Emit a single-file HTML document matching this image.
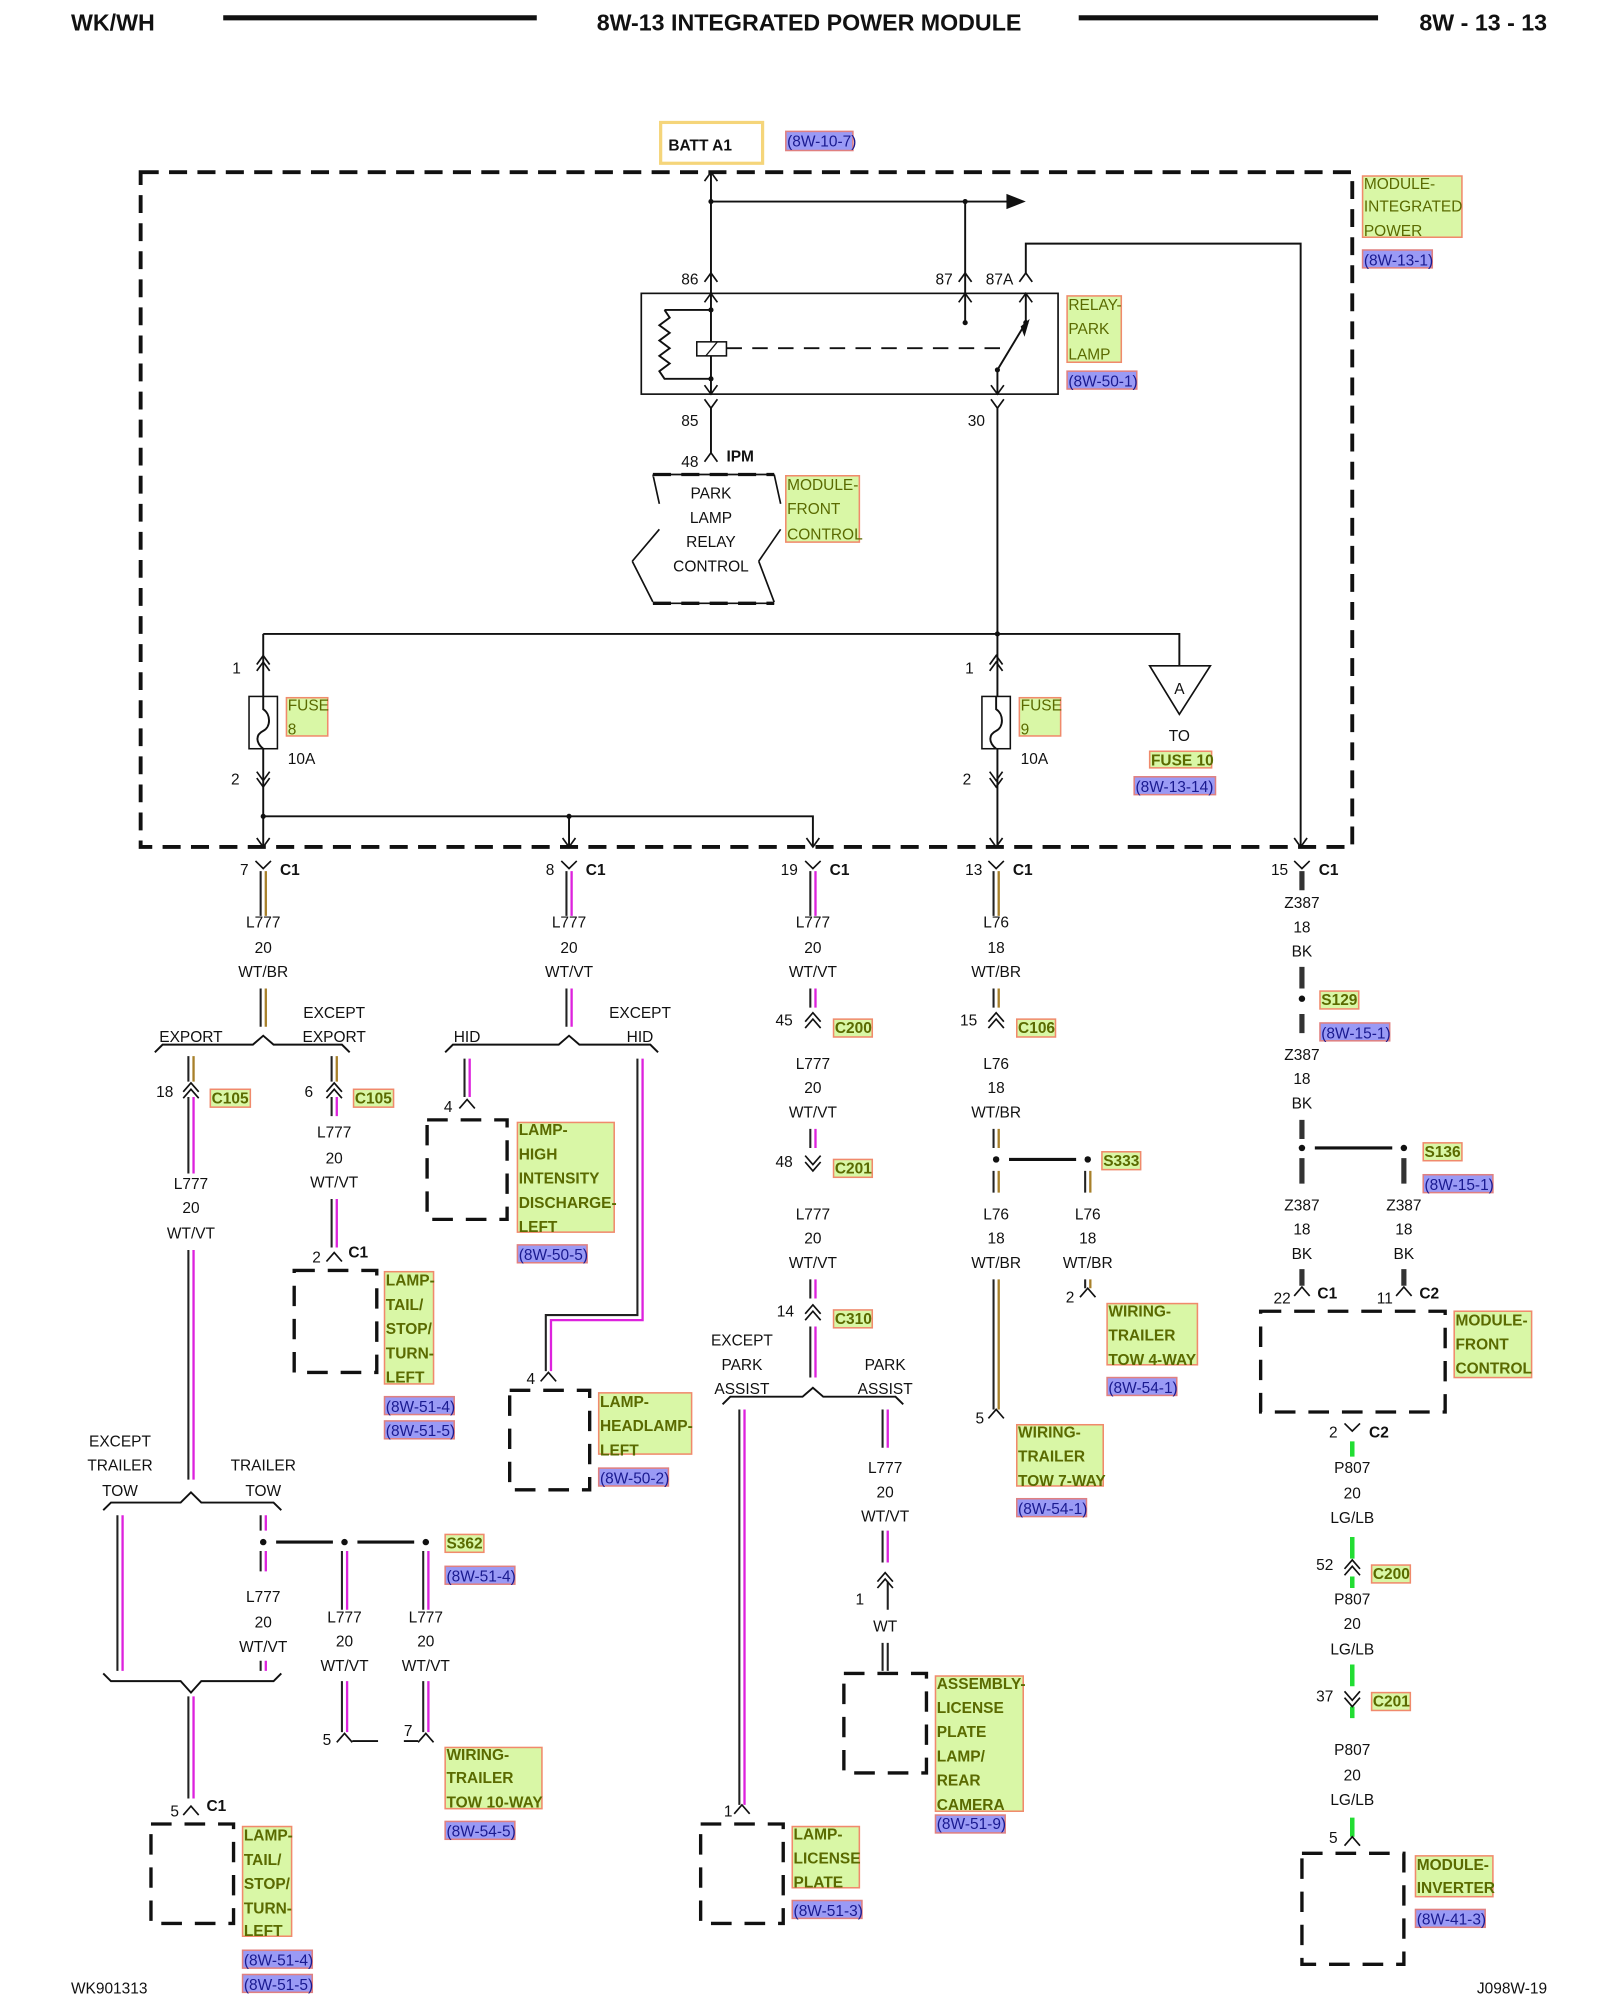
<!DOCTYPE html>
<html><head><meta charset="utf-8"><style>
html,body{margin:0;padding:0;background:#fff}
svg{display:block}
text{font-family:"Liberation Sans",sans-serif;font-size:12px;fill:#111}
.c{text-anchor:middle}
.b{font-weight:bold}
.h{font-size:18px;font-weight:bold}
.g{fill:#d9f7a6;stroke:#f08a6c;stroke-width:1.2}
.gt{fill:#5a6a00}
.gb{fill:#5a6a00;font-weight:bold}
.r{fill:#9a9af5;stroke:#e08080;stroke-width:1.2}
.rt{fill:#1a1a90}
.ln{stroke:#111;stroke-width:1.5;fill:none}
.dash{stroke:#111;stroke-width:3;fill:none;stroke-dasharray:14,8}
.dsm{stroke:#111;stroke-width:2.6;fill:none;stroke-dasharray:16,10}
.car{stroke:#111;stroke-width:1.3;fill:none}
.wb{stroke:#222;stroke-width:1.6;fill:none}
.wv{stroke:#dd22dd;stroke-width:1.8;fill:none}
.wy{stroke:#a8802a;stroke-width:1.8;fill:none}
.bk{stroke:#333;stroke-width:4;fill:none}
.lg{stroke:#22dd33;stroke-width:3.5;fill:none}
</style></head><body>
<svg width="1600" height="2000" viewBox="0 0 1240 1568" preserveAspectRatio="none" xmlns="http://www.w3.org/2000/svg">
<!-- header -->
<text x="55" y="24" class="h">WK/WH</text>
<line x1="173" y1="14" x2="416" y2="14" stroke="#111" stroke-width="4"/>
<text x="627" y="24" class="h c">8W-13 INTEGRATED POWER MODULE</text>
<line x1="836" y1="14" x2="1068" y2="14" stroke="#111" stroke-width="4"/>
<text x="1199" y="24" class="h" text-anchor="end">8W - 13 - 13</text>

<!-- BATT -->
<rect x="512" y="96" width="79" height="32" fill="none" stroke="#f5d57a" stroke-width="2.5"/>
<text x="518" y="118" class="b">BATT A1</text>
<rect x="609" y="103" width="52" height="15" class="r"/><text x="610" y="115" class="rt">(8W-10-7)</text>

<!-- module box -->
<rect x="109" y="135" width="939" height="529" class="dash"/>
<rect x="1056" y="138" width="77" height="48" class="g"/>
<text x="1057" y="148" class="gt">MODULE-</text><text x="1057" y="166" class="gt">INTEGRATED</text><text x="1057" y="185" class="gt">POWER</text>
<rect x="1056" y="196" width="54" height="14" class="r"/><text x="1057" y="208" class="rt">(8W-13-1)</text>

<!-- top wiring -->
<path class="ln" d="M551 135V309 M551 158H782 M748 158V253 M795 214V191H1008V664"/>
<polygon points="780,152 795,158 780,164" fill="#111"/>
<circle cx="551" cy="158" r="2" fill="#111"/><circle cx="748" cy="158" r="2" fill="#111"/>
<path class="car" d="M546 142L551 135L556 142 M546 221L551 214L556 221 M743 221L748 214L753 221 M790 221L795 214L800 221 M1003 657L1008 664L1013 657"/>
<text x="528" y="223">86</text><text x="725" y="223">87</text><text x="764" y="223">87A</text>

<!-- relay -->
<rect x="497" y="230" width="323" height="79" fill="none" stroke="#111" stroke-width="1.3"/>
<path class="car" d="M546 237L551 230L556 237 M546 302L551 309L556 302 M743 237L748 230L753 237 M790 237L795 230L800 237 M768 302L773 309L778 302"/>
<path class="ln" d="M551 243H515 M515 243L519 249L511 255L519 261L511 267L519 273L511 279L519 285L511 291L515 297H551 M795 230V253 M795 253L773 290 M773 290V309"/>
<circle cx="551" cy="243" r="2" fill="#111"/><circle cx="551" cy="297" r="2" fill="#111"/>
<circle cx="748" cy="253" r="2" fill="#111"/><circle cx="795" cy="253" r="2" fill="#111"/><circle cx="773" cy="290" r="2" fill="#111"/>
<polygon points="791,256 798,250 794,264" fill="#111"/>
<rect x="540" y="268" width="23" height="11" fill="#fff" stroke="#111" stroke-width="1.2"/>
<line x1="547" y1="279" x2="556" y2="268" stroke="#111" stroke-width="1"/>
<line x1="563" y1="273" x2="783" y2="273" stroke="#111" stroke-width="1.5" stroke-dasharray="12,8"/>
<rect x="827" y="232" width="42" height="52" class="g"/>
<text x="828" y="243" class="gt">RELAY-</text><text x="828" y="262" class="gt">PARK</text><text x="828" y="282" class="gt">LAMP</text>
<rect x="827" y="291" width="54" height="14" class="r"/><text x="828" y="303" class="rt">(8W-50-1)</text>

<!-- 85 / IPM -->
<path class="ln" d="M551 320V355 M773 320V664"/>
<path class="car" d="M546 313L551 320L556 313 M546 362L551 355L556 362 M768 313L773 320L778 313"/>
<text x="528" y="334">85</text><text x="750" y="334">30</text>
<text x="528" y="366">48</text><text x="563" y="362" class="b">IPM</text>
<path d="M506 372H600 M506 372L511 395 M511 415L490 440 M490 440L506 472 M506 473H600 M600 372L605 395 M605 415L588 440 M588 440L600 472" stroke="#111" stroke-width="1.3" fill="none"/>
<path d="M506 372H600 M506 473H600" stroke="#fff" stroke-width="3" stroke-dasharray="2,22" fill="none"/>
<path d="M506 372H600 M506 473H600" stroke="#111" stroke-width="2.6" stroke-dasharray="14,8" fill="none"/>
<text x="551" y="391" class="c">PARK</text><text x="551" y="410" class="c">LAMP</text><text x="551" y="429" class="c">RELAY</text><text x="551" y="448" class="c">CONTROL</text>
<rect x="609" y="373" width="57" height="52" class="g"/>
<text x="610" y="384" class="gt">MODULE-</text><text x="610" y="403" class="gt">FRONT</text><text x="610" y="423" class="gt">CONTROL</text>

<!-- bus -->
<path class="ln" d="M204 497H914V522 M204 497V664 M204 640H630V664 M441 640V664"/>
<circle cx="773" cy="497" r="2" fill="#111"/><circle cx="441" cy="640" r="2" fill="#111"/><circle cx="204" cy="640" r="2" fill="#111"/>
<polygon points="891,522 938,522 914,560" fill="#fff" stroke="#111" stroke-width="1.3"/>
<text x="914" y="544" class="c">A</text><text x="914" y="581" class="c">TO</text>
<rect x="891" y="589" width="48" height="13" class="g"/><text x="892" y="600" class="gb">FUSE 10</text>
<rect x="879" y="609" width="63" height="14" class="r"/><text x="880" y="621" class="rt">(8W-13-14)</text>
<!-- fuses -->
<g>
<path class="car" d="M199 521L204 514L209 521 M199 526L204 519L209 526 M199 605L204 612L209 605 M199 610L204 617L209 610 M767 521L772 514L777 521 M767 526L772 519L777 526 M767 605L772 612L777 605 M767 610L772 617L777 610"/>
<rect x="193" y="546" width="22" height="41" fill="#fff" stroke="#111" stroke-width="1.2"/>
<rect x="761" y="546" width="22" height="41" fill="#fff" stroke="#111" stroke-width="1.2"/>
<path class="ln" d="M204 546V556C210 560 210 570 204 573 C198 576 198 582 204 587 M772 546V556C778 560 778 570 772 573 C766 576 766 582 772 587"/>
<text x="180" y="528">1</text><text x="179" y="615">2</text><text x="223" y="599">10A</text>
<text x="748" y="528">1</text><text x="746" y="615">2</text><text x="791" y="599">10A</text>
<rect x="222" y="547" width="32" height="30" class="g"/><text x="223" y="557" class="gt">FUSE</text><text x="223" y="576" class="gt">8</text>
<rect x="790" y="547" width="32" height="30" class="g"/><text x="791" y="557" class="gt">FUSE</text><text x="791" y="576" class="gt">9</text>
</g>
<path class="car" d="M199 657L204 664L209 657 M436 657L441 664L446 657 M625 657L630 664L635 657 M767 657L772 664L777 657"/>

<!-- C1 connectors -->
<path class="car" d="M198 675L204 681L210 675 M435 675L441 681L447 675 M624 675L630 681L636 675 M766 675L772 681L778 675 M1003 675L1009 681L1015 675"/>
<text x="186" y="686">7</text><text x="217" y="686" class="b">C1</text>
<text x="423" y="686">8</text><text x="454" y="686" class="b">C1</text>
<text x="605" y="686">19</text><text x="643" y="686" class="b">C1</text>
<text x="748" y="686">13</text><text x="785" y="686" class="b">C1</text>
<text x="985" y="686">15</text><text x="1022" y="686" class="b">C1</text>

<!-- wires: black side -->
<path class="wb" d="M202 683V718 M202 775V805 M439 683V718 M439 775V805 M628 683V718 M628 775V790 M770 683V718 M770 775V790
M146 828V848 M146 860V920 M146 980V1160 M257 828V848 M257 860V875 M257 940V978 M91 1188V1310 M202 1188V1200 M202 1216V1232 M202 1302V1310 M146 1330V1410 M265 1216V1262 M328 1216V1262 M265 1318V1358 M328 1318V1358
M360 830V860 M494 830V1031H423V1075 M628 885V900 M628 1003V1018 M628 1040V1080 M573 1105V1415 M684 1105V1135 M684 1200V1225 M684 1288V1310 M688 1288V1310 M688 1240V1262
M770 885V900 M770 918V935 M770 1003V1105 M841 918V935 M841 1003V1010"/>
<path class="wy" d="M206 683V718 M206 775V805 M150 828V848 M261 828V848 M774 683V718 M774 775V790 M774 885V900 M774 918V935 M774 1003V1105 M845 918V935 M845 1003V1010"/>
<path class="wv" d="M443 683V718 M443 775V805 M632 683V718 M632 775V790 M150 860V920 M150 980V1160 M261 860V875 M261 940V978 M95 1188V1310 M206 1188V1200 M206 1216V1232 M206 1302V1310 M150 1330V1410 M269 1216V1262 M332 1216V1262 M269 1318V1358 M332 1318V1358
M364 830V860 M498 830V1035H427V1075 M632 885V900 M632 1003V1018 M632 1040V1080 M577 1105V1415 M688 1105V1135 M688 1200V1225"/>
<path class="bk" d="M1009 683V698 M1009 758V775 M1009 795V810 M1009 878V893 M1009 908V928 M1088 908V928 M1009 995V1008 M1088 995V1008"/>
<path class="lg" d="M1048 1130V1142 M1048 1205V1222 M1048 1236V1245 M1048 1305V1322 M1048 1338V1347 M1048 1425V1440"/>

<!-- column labels -->
<g class="c">
<text x="204" y="727" class="c">L777</text><text x="204" y="747" class="c">20</text><text x="204" y="766" class="c">WT/BR</text>
<text x="441" y="727" class="c">L777</text><text x="441" y="747" class="c">20</text><text x="441" y="766" class="c">WT/VT</text>
<text x="630" y="727" class="c">L777</text><text x="630" y="747" class="c">20</text><text x="630" y="766" class="c">WT/VT</text>
<text x="772" y="727" class="c">L76</text><text x="772" y="747" class="c">18</text><text x="772" y="766" class="c">WT/BR</text>
<text x="1009" y="712" class="c">Z387</text><text x="1009" y="731" class="c">18</text><text x="1009" y="750" class="c">BK</text>
</g>

<!-- col1 brackets -->
<path class="ln" d="M120 825L126 819H196L204 812L212 819H265L271 825"/>
<text x="148" y="817" class="c">EXPORT</text><text x="259" y="798" class="c">EXCEPT</text><text x="259" y="817" class="c">EXPORT</text>
<path class="car" d="M142 856L148 849L154 856 M142 861L148 854L154 861 M253 856L259 849L265 856 M253 861L259 854L265 861"/>
<text x="121" y="860">18</text><text x="236" y="860">6</text>
<rect x="163" y="854" width="31" height="14" class="g"/><text x="164" y="865" class="gb">C105</text>
<rect x="274" y="854" width="31" height="14" class="g"/><text x="275" y="865" class="gb">C105</text>
<text x="148" y="932" class="c">L777</text><text x="148" y="951" class="c">20</text><text x="148" y="971" class="c">WT/VT</text>
<text x="259" y="892" class="c">L777</text><text x="259" y="912" class="c">20</text><text x="259" y="931" class="c">WT/VT</text>
<path class="car" d="M253 989L259 982L265 989"/>
<text x="242" y="990">2</text><text x="270" y="986" class="b">C1</text>
<rect x="228" y="996" width="64" height="80" class="dsm"/>
<rect x="298" y="997" width="38" height="88" class="g"/>
<text x="299" y="1008" class="gb">LAMP-</text><text x="299" y="1027" class="gb">TAIL/</text><text x="299" y="1046" class="gb">STOP/</text><text x="299" y="1065" class="gb">TURN-</text><text x="299" y="1084" class="gb">LEFT</text>
<rect x="298" y="1095" width="54" height="14" class="r"/><text x="299" y="1107" class="rt">(8W-51-4)</text>
<rect x="298" y="1114" width="54" height="14" class="r"/><text x="299" y="1126" class="rt">(8W-51-5)</text>

<text x="93" y="1134" class="c">EXCEPT</text><text x="93" y="1153" class="c">TRAILER</text><text x="93" y="1173" class="c">TOW</text>
<text x="204" y="1153" class="c">TRAILER</text><text x="204" y="1173" class="c">TOW</text>
<path class="ln" d="M80 1184L86 1178H140L148 1170L156 1178H212L218 1184"/>
<path class="ln" d="M80 1312L86 1318H140L148 1327L156 1318H212L218 1312"/>
<circle cx="204" cy="1209" r="2.5" fill="#111"/><circle cx="267" cy="1209" r="2.5" fill="#111"/><circle cx="330" cy="1209" r="2.5" fill="#111"/>
<path d="M214 1209H258 M277 1209H321" stroke="#111" stroke-width="2.5"/>
<rect x="345" y="1203" width="30" height="14" class="g"/><text x="346" y="1214" class="gb">S362</text>
<rect x="345" y="1228" width="54" height="14" class="r"/><text x="346" y="1240" class="rt">(8W-51-4)</text>
<text x="204" y="1256" class="c">L777</text><text x="204" y="1276" class="c">20</text><text x="204" y="1295" class="c">WT/VT</text>
<text x="267" y="1272" class="c">L777</text><text x="267" y="1291" class="c">20</text><text x="267" y="1310" class="c">WT/VT</text>
<text x="330" y="1272" class="c">L777</text><text x="330" y="1291" class="c">20</text><text x="330" y="1310" class="c">WT/VT</text>
<path class="car" d="M261 1366L267 1359L273 1366 M324 1366L330 1359L336 1366"/>
<path class="ln" d="M273 1365H293 M313 1365H324"/>
<text x="250" y="1368">5</text><text x="313" y="1361">7</text>
<rect x="345" y="1370" width="75" height="48" class="g"/>
<text x="346" y="1380" class="gb">WIRING-</text><text x="346" y="1398" class="gb">TRAILER</text><text x="346" y="1417" class="gb">TOW 10-WAY</text>
<rect x="345" y="1428" width="54" height="14" class="r"/><text x="346" y="1440" class="rt">(8W-54-5)</text>
<path class="car" d="M142 1423L148 1416L154 1423"/>
<text x="132" y="1424">5</text><text x="160" y="1420" class="b">C1</text>
<rect x="117" y="1430" width="64" height="78" class="dsm"/>
<rect x="188" y="1432" width="38" height="86" class="g"/>
<text x="189" y="1443" class="gb">LAMP-</text><text x="189" y="1462" class="gb">TAIL/</text><text x="189" y="1481" class="gb">STOP/</text><text x="189" y="1500" class="gb">TURN-</text><text x="189" y="1518" class="gb">LEFT</text>
<rect x="188" y="1529" width="54" height="14" class="r"/><text x="189" y="1541" class="rt">(8W-51-4)</text>
<rect x="188" y="1548" width="54" height="14" class="r"/><text x="189" y="1560" class="rt">(8W-51-5)</text>

<!-- col2 -->
<path class="ln" d="M345 825L351 819H433L441 812L449 819H504L510 825"/>
<text x="362" y="817" class="c">HID</text><text x="496" y="798" class="c">EXCEPT</text><text x="496" y="817" class="c">HID</text>
<path class="car" d="M356 869L362 862L368 869"/><text x="344" y="872">4</text>
<rect x="331" y="878" width="62" height="78" class="dsm"/>
<rect x="401" y="880" width="75" height="86" class="g"/>
<text x="402" y="890" class="gb">LAMP-</text><text x="402" y="909" class="gb">HIGH</text><text x="402" y="928" class="gb">INTENSITY</text><text x="402" y="947" class="gb">DISCHARGE-</text><text x="402" y="966" class="gb">LEFT</text>
<rect x="401" y="976" width="54" height="14" class="r"/><text x="402" y="988" class="rt">(8W-50-5)</text>
<path class="car" d="M419 1083L425 1076L431 1083"/><text x="408" y="1085">4</text>
<rect x="395" y="1090" width="62" height="78" class="dsm"/>
<rect x="464" y="1092" width="72" height="48" class="g"/>
<text x="465" y="1103" class="gb">LAMP-</text><text x="465" y="1122" class="gb">HEADLAMP-</text><text x="465" y="1141" class="gb">LEFT</text>
<rect x="464" y="1151" width="54" height="14" class="r"/><text x="465" y="1163" class="rt">(8W-50-2)</text>

<!-- col3 -->
<path class="car" d="M624 801L630 794L636 801 M624 806L630 799L636 806 M624 906L630 913L636 906 M624 911L630 918L636 911 M624 1030L630 1023L636 1030 M624 1035L630 1028L636 1035"/>
<text x="601" y="804">45</text><rect x="646" y="799" width="30" height="14" class="g"/><text x="647" y="810" class="gb">C200</text>
<text x="630" y="838" class="c">L777</text><text x="630" y="857" class="c">20</text><text x="630" y="876" class="c">WT/VT</text>
<text x="601" y="915">48</text><rect x="646" y="909" width="30" height="14" class="g"/><text x="647" y="920" class="gb">C201</text>
<text x="630" y="956" class="c">L777</text><text x="630" y="975" class="c">20</text><text x="630" y="994" class="c">WT/VT</text>
<text x="602" y="1032">14</text><rect x="646" y="1027" width="30" height="14" class="g"/><text x="647" y="1038" class="gb">C310</text>
<text x="575" y="1055" class="c">EXCEPT</text><text x="575" y="1074" class="c">PARK</text><text x="575" y="1093" class="c">ASSIST</text>
<text x="686" y="1074" class="c">PARK</text><text x="686" y="1093" class="c">ASSIST</text>
<path class="ln" d="M560 1101L566 1095H622L630 1088L638 1095H694L700 1101"/>
<text x="686" y="1155" class="c">L777</text><text x="686" y="1174" class="c">20</text><text x="686" y="1193" class="c">WT/VT</text>
<path class="car" d="M680 1240L686 1233L692 1240 M680 1245L686 1238L692 1245"/><text x="663" y="1258">1</text>
<text x="686" y="1279" class="c">WT</text>
<rect x="654" y="1312" width="64" height="78" class="dsm"/>
<rect x="725" y="1314" width="68" height="106" class="g"/>
<text x="726" y="1324" class="gb">ASSEMBLY-</text><text x="726" y="1343" class="gb">LICENSE</text><text x="726" y="1362" class="gb">PLATE</text><text x="726" y="1381" class="gb">LAMP/</text><text x="726" y="1400" class="gb">REAR</text><text x="726" y="1419" class="gb">CAMERA</text>
<rect x="725" y="1423" width="54" height="14" class="r"/><text x="726" y="1434" class="rt">(8W-51-9)</text>
<path class="car" d="M569 1422L575 1415L581 1422"/><text x="561" y="1424">1</text>
<rect x="543" y="1430" width="64" height="78" class="dsm"/>
<rect x="614" y="1432" width="52" height="48" class="g"/>
<text x="615" y="1442" class="gb">LAMP-</text><text x="615" y="1461" class="gb">LICENSE</text><text x="615" y="1480" class="gb">PLATE</text>
<rect x="614" y="1490" width="54" height="14" class="r"/><text x="615" y="1502" class="rt">(8W-51-3)</text>

<!-- col4 -->
<path class="car" d="M766 801L772 794L778 801 M766 806L772 799L778 806"/>
<text x="744" y="804">15</text><rect x="788" y="799" width="30" height="14" class="g"/><text x="789" y="810" class="gb">C106</text>
<text x="772" y="838" class="c">L76</text><text x="772" y="857" class="c">18</text><text x="772" y="876" class="c">WT/BR</text>
<circle cx="772" cy="909" r="2.5" fill="#111"/><circle cx="843" cy="909" r="2.5" fill="#111"/>
<path d="M782 909H834" stroke="#111" stroke-width="2.5"/>
<rect x="854" y="903" width="30" height="14" class="g"/><text x="855" y="914" class="gb">S333</text>
<text x="772" y="956" class="c">L76</text><text x="772" y="975" class="c">18</text><text x="772" y="994" class="c">WT/BR</text>
<text x="843" y="956" class="c">L76</text><text x="843" y="975" class="c">18</text><text x="843" y="994" class="c">WT/BR</text>
<path class="car" d="M766 1112L772 1105L778 1112 M837 1017L843 1010L849 1017"/>
<text x="756" y="1116">5</text><text x="826" y="1021">2</text>
<rect x="858" y="1022" width="70" height="48" class="g"/>
<text x="859" y="1032" class="gb">WIRING-</text><text x="859" y="1051" class="gb">TRAILER</text><text x="859" y="1070" class="gb">TOW 4-WAY</text>
<rect x="858" y="1080" width="54" height="14" class="r"/><text x="859" y="1092" class="rt">(8W-54-1)</text>
<rect x="788" y="1117" width="67" height="48" class="g"/>
<text x="789" y="1127" class="gb">WIRING-</text><text x="789" y="1146" class="gb">TRAILER</text><text x="789" y="1165" class="gb">TOW 7-WAY</text>
<rect x="788" y="1175" width="54" height="14" class="r"/><text x="789" y="1187" class="rt">(8W-54-1)</text>

<!-- col5 -->
<circle cx="1009" cy="783" r="2.5" fill="#111"/>
<rect x="1023" y="777" width="30" height="14" class="g"/><text x="1024" y="788" class="gb">S129</text>
<rect x="1023" y="802" width="54" height="14" class="r"/><text x="1024" y="814" class="rt">(8W-15-1)</text>
<text x="1009" y="831" class="c">Z387</text><text x="1009" y="850" class="c">18</text><text x="1009" y="869" class="c">BK</text>
<circle cx="1009" cy="900" r="2.5" fill="#111"/><circle cx="1088" cy="900" r="2.5" fill="#111"/>
<path d="M1019 900H1079" stroke="#111" stroke-width="2.5"/>
<rect x="1103" y="896" width="30" height="14" class="g"/><text x="1104" y="907" class="gb">S136</text>
<rect x="1103" y="921" width="54" height="14" class="r"/><text x="1104" y="933" class="rt">(8W-15-1)</text>
<text x="1009" y="949" class="c">Z387</text><text x="1009" y="968" class="c">18</text><text x="1009" y="987" class="c">BK</text>
<text x="1088" y="949" class="c">Z387</text><text x="1088" y="968" class="c">18</text><text x="1088" y="987" class="c">BK</text>
<path class="car" d="M1003 1016L1009 1009L1015 1016 M1082 1016L1088 1009L1094 1016"/>
<text x="987" y="1022">22</text><text x="1021" y="1018" class="b">C1</text>
<text x="1067" y="1022">11</text><text x="1100" y="1018" class="b">C2</text>
<rect x="977" y="1028" width="143" height="79" class="dsm"/>
<rect x="1127" y="1028" width="60" height="52" class="g"/>
<text x="1128" y="1039" class="gb">MODULE-</text><text x="1128" y="1058" class="gb">FRONT</text><text x="1128" y="1077" class="gb">CONTROL</text>
<path class="car" d="M1042 1116L1048 1122L1054 1116"/>
<text x="1030" y="1127">2</text><text x="1061" y="1127" class="b">C2</text>
<text x="1048" y="1155" class="c">P807</text><text x="1048" y="1175" class="c">20</text><text x="1048" y="1194" class="c">LG/LB</text>
<path class="car" d="M1042 1230L1048 1223L1054 1230 M1042 1235L1048 1228L1054 1235"/>
<text x="1020" y="1231">52</text><rect x="1063" y="1227" width="30" height="14" class="g"/><text x="1064" y="1238" class="gb">C200</text>
<text x="1048" y="1258" class="c">P807</text><text x="1048" y="1277" class="c">20</text><text x="1048" y="1297" class="c">LG/LB</text>
<path class="car" d="M1042 1326L1048 1333L1054 1326 M1042 1331L1048 1338L1054 1331"/>
<text x="1020" y="1334">37</text><rect x="1063" y="1327" width="30" height="14" class="g"/><text x="1064" y="1338" class="gb">C201</text>
<text x="1048" y="1376" class="c">P807</text><text x="1048" y="1396" class="c">20</text><text x="1048" y="1415" class="c">LG/LB</text>
<path class="car" d="M1042 1447L1048 1440L1054 1447"/><text x="1030" y="1445">5</text>
<rect x="1009" y="1453" width="79" height="87" class="dsm"/>
<rect x="1097" y="1455" width="60" height="32" class="g"/>
<text x="1098" y="1466" class="gb">MODULE-</text><text x="1098" y="1484" class="gb">INVERTER</text>
<rect x="1097" y="1497" width="54" height="14" class="r"/><text x="1098" y="1509" class="rt">(8W-41-3)</text>

<!-- footer -->
<text x="55" y="1563">WK901313</text>
<text x="1199" y="1563" text-anchor="end">J098W-19</text>
</svg>
</body></html>
